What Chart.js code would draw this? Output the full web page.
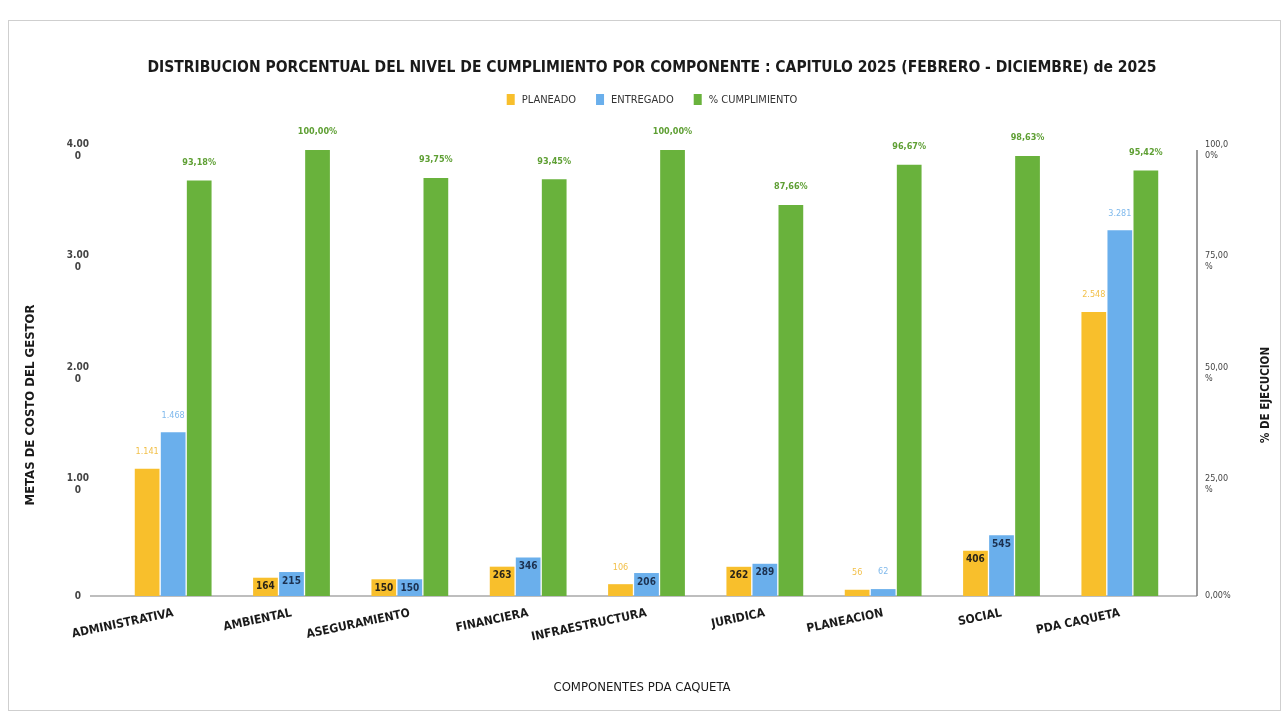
<!DOCTYPE html>
<html><head><meta charset="utf-8">
<script src="https://cdn.jsdelivr.net/npm/chart.js@4"></script>
<style>
html,body{margin:0;padding:0;background:#fff;overflow:hidden;}
#wrap{position:absolute;left:0;top:0;width:1285px;height:715px;}
#frame{position:absolute;left:8px;top:20px;width:1271px;height:689px;border:1px solid #cfcfcf;pointer-events:none;}
</style></head><body>
<div id="wrap"><canvas id="c"></canvas></div>
<div id="frame"></div>
<script>
const categories = ['ADMINISTRATIVA','AMBIENTAL','ASEGURAMIENTO','FINANCIERA','INFRAESTRUCTURA','JURIDICA','PLANEACION','SOCIAL','PDA CAQUETA'];
const planeado = [1141,164,150,263,106,262,56,406,2548];
const entregado = [1468,215,150,346,206,289,62,545,3281];
const cumplimiento = [93.18,100,93.75,93.45,100,87.66,96.67,98.63,95.42];
const seriesNames = ['PLANEADO','ENTREGADO','% CUMPLIMIENTO'];
const leftTicks = [0,1000,2000,3000,4000];
const rightTicks = [0,25,50,75,100];
const chartTitle = 'DISTRIBUCION PORCENTUAL DEL NIVEL DE CUMPLIMIENTO POR COMPONENTE : CAPITULO 2025 (FEBRERO - DICIEMBRE) de 2025';
const xTitle = 'COMPONENTES PDA CAQUETA';
const yTitle = 'METAS DE COSTO DEL GESTOR';
const y1Title = '% DE EJECUCION';

const FONT = "'DejaVu Sans Condensed','Liberation Sans Narrow',sans-serif";
const COLORS = ['#F8BF2C','#6AAFEC','#69B23C'];
const LABEL_COLORS = ['#F2C04A','#7FB9EC','#5E9F33'];
const INNER_COLORS = ['#2a2418','#1c3150'];

function fmtNum(v){ return String(v).replace(/\B(?=(\d{3})+(?!\d))/g,'.'); }
function fmtPct(v){ return v.toFixed(2).replace('.',',')+'%'; }
function leftTickLabel(v){ const s=fmtNum(v); return s.length>4 ? [s.slice(0,4), s.slice(4)] : s; }
function rightTickLabel(v){ const s=fmtPct(v); return s.length>5 ? [s.slice(0,5), s.slice(5)] : s; }

const AXIS_LEFT_X = 90, AXIS_RIGHT_X = 1197;

const decorPlugin = {
  id:'decor',
  beforeDatasetsDraw(chart){
    const ctx = chart.ctx, ca = chart.chartArea;
    ctx.save();
    // baseline and right axis line
    ctx.strokeStyle = '#a8a8a8'; ctx.lineWidth = 1.5;
    ctx.beginPath(); ctx.moveTo(AXIS_LEFT_X, ca.bottom); ctx.lineTo(AXIS_RIGHT_X, ca.bottom); ctx.stroke();
    ctx.strokeStyle = '#7a7a7a';
    ctx.beginPath(); ctx.moveTo(AXIS_RIGHT_X, ca.top); ctx.lineTo(AXIS_RIGHT_X, ca.bottom); ctx.stroke();
    ctx.restore();
  },
  afterDraw(chart){
    const ctx = chart.ctx, ca = chart.chartArea;
    ctx.save();
    ctx.fillStyle = '#1a1a1a';
    ctx.font = "bold 15.5px " + FONT;
    ctx.textAlign = 'center'; ctx.textBaseline = 'middle';
    ctx.fillText(chartTitle, 652, 68);
    // legend
    ctx.font = "11px " + FONT;
    const gap = 20, box = 8, bgap = 7;
    const widths = seriesNames.map(n => ctx.measureText(n).width + box + bgap);
    const total = widths.reduce((a,b)=>a+b,0) + gap*(seriesNames.length-1);
    let x = 652 - total/2;
    ctx.textAlign = 'left';
    seriesNames.forEach((n,i)=>{
      ctx.fillStyle = COLORS[i];
      ctx.fillRect(x, 94, box, 11);
      ctx.fillStyle = '#333';
      ctx.fillText(n, x + box + bgap, 100);
      x += widths[i] + gap;
    });
    // axis titles
    ctx.fillStyle = '#1a1a1a';
    ctx.font = "13px " + FONT;
    ctx.textAlign = 'center';
    ctx.fillText(xTitle, 642, 688);
    ctx.font = "bold 13px " + FONT;
    ctx.save(); ctx.translate(31, 405); ctx.rotate(-Math.PI/2); ctx.fillText(yTitle, 0, 0); ctx.restore();
    ctx.font = "bold 11.5px " + FONT;
    ctx.save(); ctx.translate(1266, 395); ctx.rotate(-Math.PI/2); ctx.fillText(y1Title, 0, 0); ctx.restore();
    ctx.restore();
  },
  afterDatasetsDraw(chart){
    const ctx = chart.ctx;
    ctx.save();
    ctx.textAlign = 'center'; ctx.textBaseline = 'middle';
    chart.data.datasets.forEach((ds,di)=>{
      const meta = chart.getDatasetMeta(di);
      meta.data.forEach((bar,i)=>{
        const v = ds.data[i];
        const h = bar.base - bar.y;
        if(di === 2){
          ctx.font = "bold 9px " + FONT;
          ctx.fillStyle = LABEL_COLORS[2];
          ctx.fillText(fmtPct(v), bar.x, bar.y - 18);
          return;
        }
        const txt = fmtNum(v);
        if(h < 14 || h > 100){
          ctx.font = "9px " + FONT;
          ctx.fillStyle = LABEL_COLORS[di];
          ctx.fillText(txt, bar.x, bar.y - 17);
        } else {
          ctx.font = "bold 10px " + FONT;
          ctx.fillStyle = INNER_COLORS[di];
          ctx.fillText(txt, bar.x, bar.y + 9);
        }
      });
    });
    ctx.restore();
  }
};

new Chart(document.getElementById('c'), {
  type:'bar',
  data:{
    labels: categories,
    datasets:[
      {label:seriesNames[0], data:planeado, backgroundColor:COLORS[0], yAxisID:'y'},
      {label:seriesNames[1], data:entregado, backgroundColor:COLORS[1], yAxisID:'y'},
      {label:seriesNames[2], data:cumplimiento, backgroundColor:COLORS[2], yAxisID:'y1'}
    ]
  },
  options:{
    responsive:true, maintainAspectRatio:false, animation:false,
    layout:{padding:{top:150, left:0, right:0, bottom:0}},
    datasets:{bar:{categoryPercentage:0.66, barPercentage:0.95}},
    plugins:{legend:{display:false}, title:{display:false}, tooltip:{enabled:false}},
    scales:{
      x:{
        grid:{display:false},
        border:{display:false},
        ticks:{color:'#1a1a1a', font:{family:FONT, size:12, weight:'bold'}, minRotation:12, maxRotation:12, padding:2, autoSkip:false},
        afterFit(s){ s.height = 119; }
      },
      y:{
        position:'left', min:0, max:4000,
        afterBuildTicks(s){ s.ticks = leftTicks.map(v=>({value:v})); },
        grid:{display:false, drawTicks:false},
        border:{display:false},
        ticks:{color:'#444', font:{family:FONT, size:10, weight:'bold'}, crossAlign:'center', padding:25, callback:leftTickLabel},
        afterFit(s){ s.width = 114; }
      },
      y1:{
        position:'right', min:0, max:100,
        afterBuildTicks(s){ s.ticks = rightTicks.map(v=>({value:v})); },
        grid:{display:false, drawTicks:false},
        border:{display:false},
        ticks:{color:'#444', font:{family:FONT, size:9}, crossAlign:'near', padding:26, callback:rightTickLabel},
        afterFit(s){ s.width = 106; }
      }
    }
  },
  plugins:[decorPlugin]
});
</script>
</body></html>
